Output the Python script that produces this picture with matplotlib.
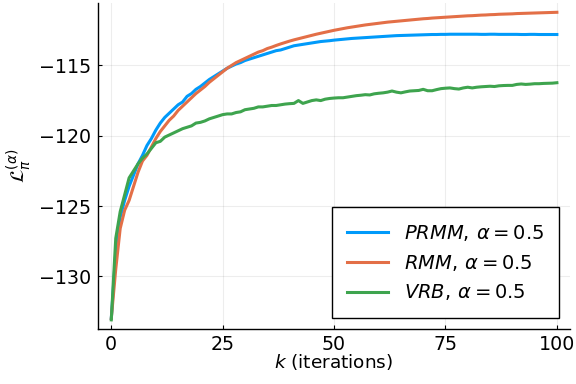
import numpy as np
import matplotlib.pyplot as plt

# iterations
k = np.arange(0, 101)

prmm = [-133.0, -128.3, -125.8, -124.6, -123.6, -122.8, -122.0, -121.4, -120.7, -120.2,
        -119.6, -119.1, -118.7, -118.4, -118.1, -117.8, -117.6, -117.2, -117.0, -116.7,
        -116.5, -116.25, -116.0, -115.8, -115.6, -115.4, -115.2, -115.05, -114.9, -114.8,
        -114.65, -114.55, -114.45, -114.35, -114.25, -114.15, -114.05, -113.95, -113.9, -113.8,
        -113.7, -113.6, -113.55, -113.5, -113.45, -113.4, -113.35, -113.3, -113.27, -113.24,
        -113.2, -113.17, -113.14, -113.11, -113.08, -113.06, -113.04, -113.02, -113.0, -112.98,
        -112.96, -112.94, -112.92, -112.9, -112.88, -112.87, -112.86, -112.85, -112.84, -112.83,
        -112.82, -112.81, -112.8, -112.8, -112.79, -112.79, -112.78, -112.78, -112.78, -112.78,
        -112.78, -112.78, -112.78, -112.79, -112.79, -112.78, -112.78, -112.79, -112.79, -112.79,
        -112.79, -112.79, -112.8, -112.8, -112.79, -112.79, -112.8, -112.8, -112.8, -112.8,
        -112.8]

rmm = [-133.0, -129.5, -126.6, -125.3, -124.6, -123.6, -122.6, -121.8, -121.4, -120.8,
       -120.2, -119.7, -119.3, -118.9, -118.6, -118.2, -117.9, -117.6, -117.3, -117.0,
       -116.75, -116.5, -116.2, -115.95, -115.7, -115.45, -115.2, -115.0, -114.8, -114.65,
       -114.5, -114.35, -114.2, -114.05, -113.95, -113.8, -113.7, -113.58, -113.47, -113.37,
       -113.27, -113.18, -113.1, -113.02, -112.94, -112.86, -112.78, -112.71, -112.64, -112.57,
       -112.5, -112.44, -112.38, -112.32, -112.27, -112.22, -112.17, -112.12, -112.08, -112.04,
       -112.0, -111.96, -111.92, -111.89, -111.86, -111.83, -111.8, -111.77, -111.74, -111.71,
       -111.68, -111.66, -111.63, -111.61, -111.59, -111.57, -111.55, -111.53, -111.51, -111.49,
       -111.47, -111.46, -111.44, -111.42, -111.41, -111.39, -111.38, -111.36, -111.35, -111.34,
       -111.33, -111.31, -111.3, -111.29, -111.28, -111.27, -111.26, -111.25, -111.24, -111.23,
       -111.22]

vrb = [-133.1, -127.3, -125.4, -124.2, -123.0, -122.5, -122.0, -121.6, -121.3, -120.9,
       -120.5, -120.4, -120.1, -119.95, -119.8, -119.65, -119.5, -119.4, -119.3, -119.1,
       -119.05, -118.95, -118.8, -118.7, -118.6, -118.5, -118.45, -118.45, -118.35, -118.3,
       -118.15, -118.1, -118.05, -117.95, -117.95, -117.9, -117.85, -117.85, -117.8, -117.75,
       -117.72, -117.7, -117.5, -117.7, -117.6, -117.5, -117.45, -117.5, -117.4, -117.35,
       -117.32, -117.3, -117.3, -117.25, -117.2, -117.15, -117.12, -117.08, -117.1, -117.02,
       -116.98, -116.95, -116.9, -116.82, -116.9, -116.95, -116.88, -116.82, -116.8, -116.78,
       -116.7, -116.8, -116.8, -116.72, -116.65, -116.62, -116.6, -116.65, -116.68, -116.6,
       -116.55, -116.6, -116.55, -116.52, -116.5, -116.48, -116.5, -116.45, -116.43, -116.42,
       -116.42, -116.35, -116.32, -116.35, -116.33, -116.3, -116.3, -116.28, -116.27, -116.26,
       -116.23]

labels = [r'$PRMM,\,\alpha = 0.5$', r'$RMM,\,\alpha = 0.5$', r'$VRB,\,\alpha = 0.5$']
colors = ['#009AFA', '#E36F47', '#3EA44E']
xticks = [0, 25, 50, 75, 100]
yticks = [-130, -125, -120, -115]

fig = plt.figure(figsize=(5.76, 3.84), dpi=100)
ax = fig.add_axes([0.170, 0.143, 0.820, 0.849])

for y, lab, c in zip([prmm, rmm, vrb], labels, colors):
    ax.plot(k, y, color=c, lw=2.2, label=lab)

ax.margins(x=0.03, y=0.03)
ax.set_xticks(xticks)
ax.set_yticks(yticks)
ax.grid(True, color='black', alpha=0.07, lw=0.8)
for s in ['top', 'right']:
    ax.spines[s].set_visible(False)
for s in ['left', 'bottom']:
    ax.spines[s].set_linewidth(1.0)
ax.tick_params(direction='in', length=3, width=0.8, labelsize=13.7)
ax.tick_params(axis='x', pad=4)
ax.tick_params(axis='y', pad=5)

ax.set_xlabel(r'$k$ (iterations)', fontsize=13.3, labelpad=-1)
ax.set_ylabel(r'$\mathcal{L}_\pi^{(\alpha)}$', fontsize=14, labelpad=4)

leg = ax.legend(loc='lower right', bbox_to_anchor=(0.977, 0.034), borderaxespad=0,
                fontsize=14, fancybox=False, framealpha=1, edgecolor='black',
                handlelength=2.1, handletextpad=0.8, labelspacing=0.5,
                borderpad=0.8)
leg.get_frame().set_linewidth(1.0)

fig.savefig('out.png', dpi=100)
